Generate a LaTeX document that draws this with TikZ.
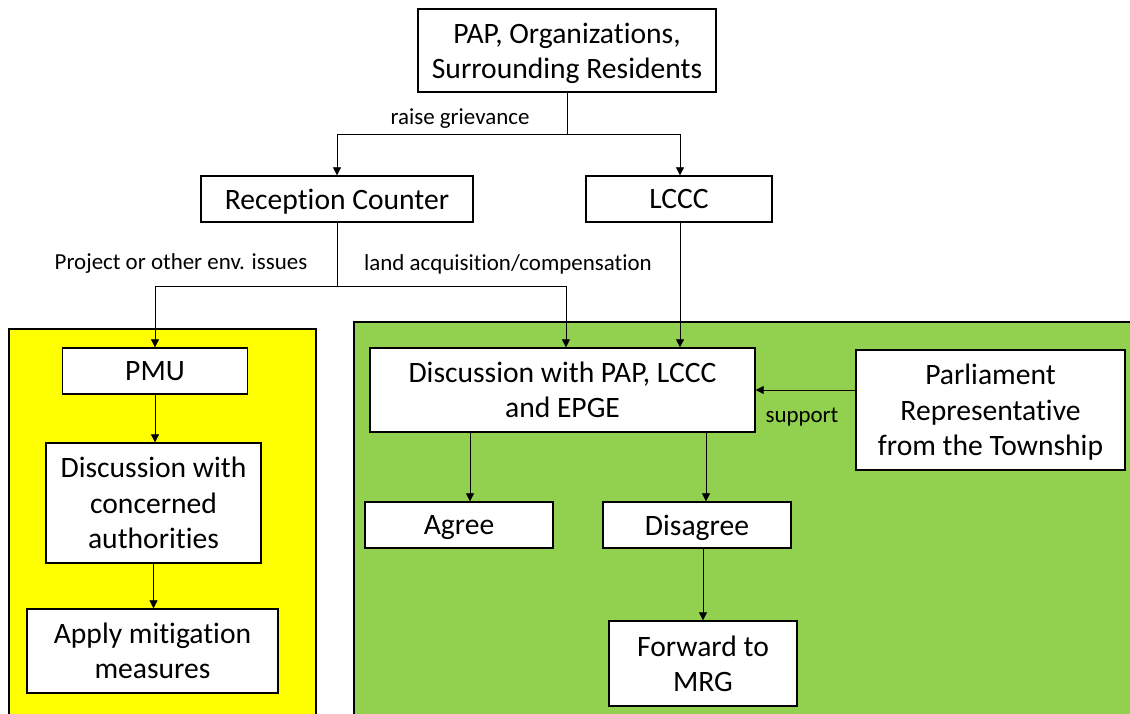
\documentclass[tikz,border=0pt]{standalone}
\usepackage{fontspec}
\setmainfont[Ligatures=NoCommon]{Carlito}
\usetikzlibrary{arrows.meta}
\definecolor{grn}{HTML}{92D050}
\definecolor{ylw}{HTML}{FFFF00}
\begin{document}
\begin{tikzpicture}[x=0.75pt,y=-0.75pt,
  box/.style={draw, fill=white, line width=1pt, align=center, inner sep=0pt,
    text depth=0pt, font=\fontsize{22.2}{26.5}\selectfont},
  sz/.style 2 args={minimum width=#1*0.75pt, minimum height=#2*0.75pt},
  lbl/.style={inner sep=0pt, font=\fontsize{17.2}{20}\selectfont},
  arr/.style={-{Triangle[width=6pt,length=6pt]}, line width=0.6pt},
  ln/.style={line width=0.6pt},
  area/.style={draw, line width=1pt}
]
\clip (0,0) rectangle (1130,713);
\fill[white] (0,0) rectangle (1130,713);
% background areas
\draw[area, fill=ylw] (9,329) rectangle (316,730);
\draw[area, fill=grn] (354,322) rectangle (1145,730);

% nodes
\node[box, sz={298}{83}] (pap) at (567,50.5) {PAP, Organizations,\\Surrounding Residents};
\node[box, sz={272}{46}] (rc) at (337,199) {Reception Counter};
\node[box, sz={186}{46}] (lccc) at (679,199) {LCCC};
\node[box, sz={185}{46}] (pmu) at (155,371) {PMU};
\node[box, sz={215}{120}] (dca) at (153.5,503) {Discussion with\\concerned\\authorities};
\node[box, sz={251}{84}] (amm) at (152.5,651) {Apply mitigation\\measures};
\node[box, sz={385}{84}] (disc) at (562.5,390) {Discussion with PAP, LCCC\\and EPGE};
\node[box, sz={269}{120}] (parl) at (990.5,410) {Parliament\\Representative\\from the Township};
\node[box, sz={188}{46}] (agree) at (459,525) {Agree};
\node[box, sz={188}{46}] (dis) at (697,525) {Disagree};
\node[box, sz={188}{85}] (fwd) at (703,663.5) {Forward to\\MRG};

% labels
\node[lbl] (l1) at (460,119) {raise grievance};
\node[lbl] (l2) at (181,264) {Project or other env. issues};
\node[lbl] (l3) at (508,264) {land acquisition/compensation};
\node[lbl] (l4) at (802,417) {support};

% connectors
\coordinate (j1) at (pap.south |- 0,134);
\draw[ln] (pap.south) -- (j1);
\draw[arr] (j1) -| (rc.north);
\draw[arr] (j1) -| ([xshift=0.75pt]lccc.north);

\coordinate (j2) at (rc.south |- 0,286);
\draw[ln] (rc.south) -- (j2);
\draw[arr] (j2) -| (pmu.north);
\draw[arr] (j2) -| ([xshift=2.6pt]disc.north);
\draw[arr] ([xshift=0.75pt]lccc.south) -- ([xshift=0.75pt]lccc.south |- disc.north);

\draw[arr] (pmu.south) -- (pmu.south |- dca.north);
\draw[arr] (dca.south) -- (dca.south |- amm.north);

\draw[arr] (parl.west |- disc.east) -- (disc.east);
\draw[arr] ([xshift=8.25pt]agree.north |- disc.south) -- ([xshift=8.25pt]agree.north);
\draw[arr] ([xshift=6.75pt]dis.north |- disc.south) -- ([xshift=6.75pt]dis.north);
\draw[arr] (fwd.north |- dis.south) -- (fwd.north);
\end{tikzpicture}
\end{document}
